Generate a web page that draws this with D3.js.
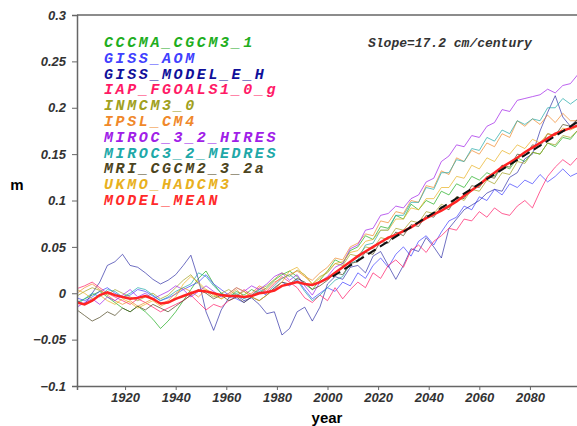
<!DOCTYPE html>
<html>
<head>
<meta charset="utf-8">
<script src="https://cdn.jsdelivr.net/npm/d3@7"></script>
<style>
  body { margin: 0; background: #fff; }
  svg { display: block; }
</style>
</head>
<body>
<svg id="chart" width="577" height="426"></svg>
<script>
// sampled every 3 years, values in metres
const years = [
  1901, 1904, 1907, 1910, 1913, 1916, 1919, 1922, 1925, 1928,
  1931, 1934, 1937, 1940, 1943, 1946, 1949, 1952, 1955, 1958,
  1961, 1964, 1967, 1970, 1973, 1976, 1979, 1982, 1985, 1988,
  1991, 1994, 1997, 2000, 2003, 2006, 2009, 2012, 2015, 2018,
  2021, 2024, 2027, 2030, 2033, 2036, 2039, 2042, 2045, 2048,
  2051, 2054, 2057, 2060, 2063, 2066, 2069, 2072, 2075, 2078,
  2081, 2084, 2087, 2090, 2093, 2096, 2099
];

const modelNames = [
  "CCCMA_CGCM3_1", "GISS_AOM", "GISS_MODEL_E_H", "IAP_FGOALS1_0_g", "INMCM3_0",
  "IPSL_CM4", "MIROC_3_2_HIRES", "MIROC3_2_MEDRES", "MRI_CGCM2_3_2a", "UKMO_HADCM3"
];
const modelColors = [
  "#1fae1f", "#4040ff", "#10109a", "#ff1a66", "#a0a020",
  "#f0882a", "#a020e8", "#20a8a8", "#4c4420", "#e8b020"
];

const cccma = [
  -0.010,-0.006,-0.002,0.002,-0.004,-0.010,-0.016,-0.020,-0.014,-0.020,
  -0.028,-0.038,-0.030,-0.020,-0.008,0.004,0.016,0.024,0.010,0.000,
  -0.004,0.002,-0.002,0.004,0.000,0.006,0.014,0.020,0.024,0.018,
  0.010,0.004,0.014,0.024,0.036,0.032,0.046,0.050,0.062,0.058,
  0.072,0.070,0.084,0.080,0.096,0.090,0.100,0.096,0.110,0.106,
  0.118,0.114,0.126,0.122,0.130,0.126,0.138,0.134,0.146,0.142,
  0.152,0.150,0.162,0.158,0.168,0.166,0.176
];
const gissAom = [
  -0.005,-0.008,-0.004,0.002,0.006,0.000,-0.004,-0.002,0.004,0.002,
  -0.003,-0.008,-0.005,-0.001,0.004,0.008,0.012,0.020,0.010,0.004,
  -0.002,-0.006,-0.010,-0.004,0.002,-0.002,0.005,0.012,0.008,0.015,
  0.004,-0.006,0.000,0.006,0.002,0.012,0.008,0.022,0.016,0.030,
  0.038,0.028,0.042,0.050,0.040,0.056,0.062,0.052,0.066,0.078,
  0.082,0.094,0.090,0.104,0.100,0.112,0.106,0.118,0.114,0.122,
  0.118,0.128,0.120,0.126,0.134,0.126,0.130
];
const gissEH = [
  -0.008,-0.012,0.000,0.012,0.030,0.034,0.042,0.030,0.028,0.022,
  0.015,0.010,0.014,0.020,0.030,0.041,0.015,-0.020,-0.040,-0.018,
  -0.005,-0.002,-0.008,-0.005,-0.012,-0.022,-0.020,-0.045,-0.038,-0.020,
  -0.015,-0.030,-0.015,0.010,0.018,0.015,0.028,0.030,0.022,0.040,
  0.045,0.030,0.015,0.030,0.048,0.045,0.060,0.050,0.038,0.070,
  0.080,0.090,0.095,0.100,0.108,0.112,0.110,0.125,0.130,0.145,
  0.150,0.175,0.195,0.213,0.190,0.180,0.188
];
const iap = [
  0.005,0.008,0.012,0.006,0.000,-0.004,-0.008,-0.012,-0.006,-0.010,
  -0.015,-0.020,-0.016,-0.012,-0.008,-0.002,-0.010,-0.018,-0.012,-0.015,
  -0.008,-0.004,0.004,-0.002,0.006,0.002,0.010,0.018,0.012,0.006,
  -0.005,-0.010,-0.002,-0.008,0.006,-0.006,0.004,0.012,0.006,0.022,
  0.016,0.030,0.036,0.028,0.046,0.052,0.044,0.056,0.062,0.070,
  0.068,0.080,0.078,0.088,0.082,0.092,0.086,0.084,0.094,0.100,
  0.092,0.110,0.126,0.136,0.144,0.138,0.147
];
const inmcm = [
  -0.003,0.002,0.006,0.003,-0.002,0.004,0.000,-0.004,-0.008,-0.004,
  0.000,-0.006,-0.002,0.006,0.014,0.020,0.010,0.002,-0.004,0.000,
  0.004,-0.002,0.002,-0.004,0.004,0.008,0.015,0.022,0.018,0.025,
  0.020,0.010,0.018,0.022,0.032,0.030,0.042,0.040,0.050,0.048,
  0.060,0.058,0.070,0.068,0.078,0.076,0.088,0.086,0.096,0.092,
  0.104,0.100,0.112,0.110,0.122,0.118,0.130,0.128,0.142,0.140,
  0.152,0.150,0.162,0.160,0.170,0.168,0.176
];
const ipsl = [
  0.000,0.006,0.010,0.004,-0.002,-0.008,-0.012,-0.008,-0.014,-0.010,
  -0.006,-0.012,-0.008,0.000,0.006,0.002,-0.004,0.004,0.000,-0.006,
  -0.002,0.004,-0.004,0.000,0.008,0.004,0.012,0.016,0.020,0.024,
  0.018,0.014,0.022,0.028,0.038,0.036,0.050,0.054,0.064,0.062,
  0.078,0.076,0.088,0.086,0.100,0.098,0.116,0.114,0.132,0.128,
  0.146,0.142,0.154,0.150,0.162,0.158,0.172,0.168,0.186,0.180,
  0.188,0.182,0.192,0.184,0.194,0.186,0.186
];
const mirocHires = [
  -0.015,-0.010,-0.006,-0.012,-0.004,-0.008,-0.002,0.004,-0.004,0.000,
  -0.006,-0.002,0.002,0.008,0.004,-0.004,0.002,0.008,0.002,-0.004,
  0.000,0.006,0.002,0.008,0.004,0.010,0.018,0.022,0.014,0.020,
  0.008,-0.002,0.012,0.018,0.028,0.032,0.048,0.052,0.068,0.070,
  0.084,0.086,0.094,0.092,0.102,0.106,0.120,0.124,0.142,0.148,
  0.160,0.158,0.170,0.168,0.180,0.184,0.198,0.196,0.208,0.210,
  0.212,0.214,0.220,0.216,0.224,0.226,0.236
];
const mirocMedres = [
  -0.012,-0.006,0.000,-0.004,0.004,0.002,-0.004,0.000,0.006,0.004,
  -0.002,-0.008,-0.004,0.002,0.006,0.010,0.022,0.018,0.008,0.000,
  -0.004,0.000,-0.006,-0.002,0.004,0.000,0.008,0.016,0.020,0.014,
  0.002,-0.008,-0.002,0.006,0.014,0.018,0.032,0.036,0.052,0.054,
  0.068,0.068,0.084,0.084,0.098,0.098,0.114,0.112,0.130,0.130,
  0.144,0.142,0.156,0.154,0.168,0.164,0.176,0.172,0.186,0.182,
  0.188,0.186,0.200,0.200,0.210,0.204,0.210
];
const mri = [
  -0.018,-0.024,-0.030,-0.026,-0.020,-0.024,-0.016,-0.020,-0.014,-0.018,
  -0.012,-0.016,-0.020,-0.014,-0.008,-0.002,0.004,0.000,-0.006,-0.002,
  -0.008,-0.004,-0.010,-0.004,-0.008,-0.002,0.006,0.012,0.010,0.016,
  0.012,0.004,0.008,0.014,0.022,0.020,0.032,0.034,0.044,0.042,
  0.056,0.054,0.066,0.062,0.074,0.072,0.084,0.082,0.094,0.090,
  0.104,0.102,0.116,0.114,0.126,0.124,0.138,0.136,0.150,0.148,
  0.160,0.158,0.172,0.170,0.182,0.180,0.188
];
const ukmo = [
  0.004,0.000,-0.006,-0.002,-0.008,-0.012,-0.006,-0.010,-0.016,-0.012,
  -0.008,-0.014,-0.010,-0.004,0.010,0.018,0.012,0.004,-0.002,-0.006,
  0.000,0.006,0.002,-0.004,-0.008,-0.002,0.004,0.012,0.024,0.028,
  0.018,0.010,0.016,0.024,0.032,0.034,0.044,0.046,0.056,0.058,
  0.068,0.068,0.080,0.080,0.092,0.090,0.102,0.102,0.114,0.114,
  0.126,0.124,0.138,0.134,0.146,0.142,0.154,0.150,0.160,0.156,
  0.166,0.162,0.172,0.170,0.178,0.176,0.180
];
const modelMean = [
  -0.010,-0.012,-0.008,-0.002,0.001,-0.002,-0.004,-0.006,-0.005,-0.003,
  -0.006,-0.011,-0.010,-0.006,-0.003,0.000,0.003,0.002,0.000,-0.002,
  -0.003,-0.003,-0.004,-0.003,0.000,0.001,0.003,0.008,0.010,0.012,
  0.010,0.009,0.012,0.016,0.022,0.028,0.034,0.040,0.045,0.050,
  0.055,0.060,0.063,0.067,0.071,0.076,0.081,0.085,0.089,0.094,
  0.099,0.105,0.111,0.117,0.124,0.130,0.136,0.141,0.146,0.152,
  0.157,0.162,0.167,0.172,0.175,0.178,0.181
];
const modelSeries = [cccma, gissAom, gissEH, iap, inmcm, ipsl, mirocHires, mirocMedres, mri, ukmo];

// linear trend 2002-2099, 17.2 cm/century
const trendYears = [2002, 2099];
const trendValues = [0.018, 0.185];

const yTicks = [-0.1, -0.05, 0, 0.05, 0.1, 0.15, 0.2, 0.25, 0.3];
const yTickLabels = ["\u22120.1", "\u22120.05", "0", "0.05", "0.1", "0.15", "0.2", "0.25", "0.3"];
const xTicks = [1920, 1940, 1960, 1980, 2000, 2020, 2040, 2060, 2080];

const svg = d3.select('#chart');
const plotLeft = 77, plotTop = 15, plotRight = 578, plotBottom = 386;

const x = d3.scaleLinear().domain([1901, 2099]).range([plotLeft, plotRight]);
const y = d3.scaleLinear().domain([-0.1, 0.3]).range([plotBottom, plotTop]);

svg.append('clipPath').attr('id', 'plotclip')
  .append('rect').attr('x', plotLeft).attr('y', plotTop)
  .attr('width', plotRight - plotLeft).attr('height', plotBottom - plotTop);

const line = d3.line().x(d => x(d[0])).y(d => y(d[1]));

const plot = svg.append('g').attr('clip-path', 'url(#plotclip)');

modelSeries.forEach(function(vals, i) {
  plot.append('path')
    .datum(years.map((yr, j) => [yr, vals[j]]))
    .attr('d', line)
    .attr('fill', 'none')
    .attr('stroke', modelColors[i])
    .attr('stroke-opacity', i == 2 ? 0.6 : 0.7)
    .attr('stroke-width', 1);
});

plot.append('path')
  .datum(years.map((yr, j) => [yr, modelMean[j]]))
  .attr('d', line)
  .attr('fill', 'none')
  .attr('stroke', '#ff2424')
  .attr('stroke-width', 2.5);

plot.append('path')
  .datum(trendYears.map((yr, j) => [yr, trendValues[j]]))
  .attr('d', line)
  .attr('fill', 'none')
  .attr('stroke', '#111')
  .attr('stroke-width', 2)
  .attr('stroke-dasharray', '9,5');

// axes
const yAxis = d3.axisLeft(y).tickValues(yTicks)
  .tickFormat((d, i) => yTickLabels[i]).tickSize(5).tickPadding(6);
const xAxis = d3.axisBottom(x).tickValues(xTicks)
  .tickFormat(d => d).tickSize(4).tickPadding(3);

const gy = svg.append('g').attr('transform', `translate(${plotLeft},0)`).call(yAxis);
const gx = svg.append('g').attr('transform', `translate(0,${plotBottom})`).call(xAxis);

[gx, gy].forEach(function(g) {
  g.select('.domain').attr('stroke', '#666').attr('stroke-width', 1.5);
  g.selectAll('.tick line').attr('stroke', '#666');
  g.selectAll('.tick text')
    .attr('fill', '#333')
    .style('font-family', '"Liberation Sans", Arial, sans-serif')
    .style('font-style', 'italic')
    .style('font-weight', '600')
    .style('font-size', '13px');
});

// top frame
svg.append('line')
  .attr('x1', plotLeft).attr('x2', plotRight).attr('y1', plotTop).attr('y2', plotTop)
  .attr('stroke', '#666').attr('stroke-width', 1.5);

// axis titles
svg.append('text').attr('x', 17).attr('y', 190)
  .attr('text-anchor', 'middle')
  .style('font-family', '"Liberation Sans", Arial, sans-serif')
  .style('font-weight', 'bold').style('font-size', '15px')
  .text('m');
svg.append('text').attr('x', 327).attr('y', 423)
  .attr('text-anchor', 'middle')
  .style('font-family', '"Liberation Sans", Arial, sans-serif')
  .style('font-weight', 'bold').style('font-size', '15px')
  .text('year');

// legend
const legendNames = modelNames.concat(["MODEL_MEAN"]);
const legendColors = modelColors.concat(["#ff2a2a"]);
svg.append('g').selectAll('text')
  .data(legendNames)
  .enter()
  .append('text')
  .attr('x', 104)
  .attr('y', (d, i) => 47 + i * 15.8)
  .attr('fill', (d, i) => legendColors[i])
  .style('font-family', '"Liberation Mono", "Courier New", monospace')
  .style('font-style', 'italic')
  .style('font-weight', 'bold')
  .style('font-size', '15px')
  .style('letter-spacing', '2.6px')
  .text(d => d);

svg.append('text').attr('x', 368).attr('y', 47)
  .attr('fill', '#333')
  .style('font-family', '"Liberation Mono", "Courier New", monospace')
  .style('font-style', 'italic')
  .style('font-weight', 'bold')
  .style('font-size', '13px')
  .text('Slope=17.2 cm/century');
</script>
</body>
</html>
